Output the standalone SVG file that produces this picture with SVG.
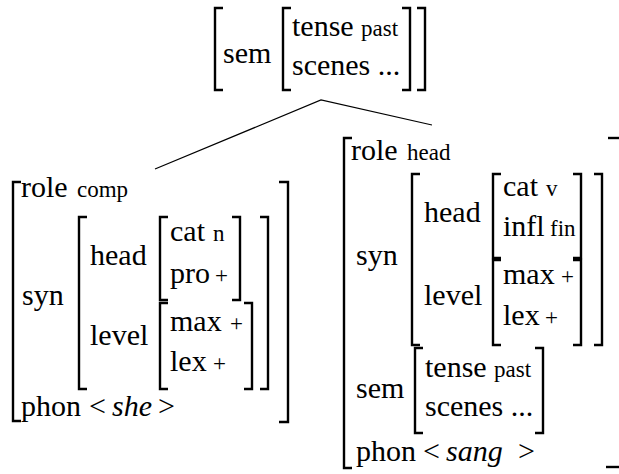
<svg xmlns="http://www.w3.org/2000/svg" width="619" height="474" viewBox="0 0 619 474" font-family="'Liberation Serif', 'DejaVu Serif', serif">
  <style>
    text, tspan { font-family: "Liberation Serif", "DejaVu Serif", serif; fill: #000; }
    .m { font-size: 30px; }
    .s { font-size: 23px; }
    .i { font-style: italic; }
    .br { fill: none; stroke: #000; stroke-width: 2.4; }
    .edge { fill: none; stroke: #000; stroke-width: 1.2; }
  </style>

  <g id="connectors">
    <polyline class="edge" points="155,169 321,100 432,125"/>
  </g>

  <!-- top: sem [tense past, scenes ...] -->
  <g id="node-top">
    <path class="br" d="M223,8 H215 V90 H223"/>
    <text class="m" x="223" y="63">sem</text>
    <path class="br" d="M291,8 H283 V90 H291"/>
    <text y="36"><tspan class="m" x="292">tense</tspan><tspan class="s" x="361">past</tspan></text>
    <text class="m" x="292" y="75">scenes ...</text>
    <path class="br" d="M402,8 H410 V90 H402"/>
    <path class="br" d="M417,8 H425 V90 H417"/>
  </g>

  <!-- left daughter: role comp -->
  <g id="node-left">
    <path class="br" d="M21,182 H13 V421 H21"/>
    <text y="197"><tspan class="m" x="21">role</tspan><tspan class="s" x="77">comp</tspan></text>
    <text class="m" x="22" y="305">syn</text>
    <path class="br" d="M87,217 H79 V389 H87"/>
    <text class="m" x="90" y="265">head</text>
    <path class="br" d="M168,217 H160 V300 H168"/>
    <text y="241"><tspan class="m" x="170">cat</tspan><tspan class="s" x="213">n</tspan></text>
    <text y="283"><tspan class="m" x="170">pro</tspan><tspan class="s" x="215">+</tspan></text>
    <path class="br" d="M232,217 H240 V300 H232"/>
    <text class="m" x="90" y="345">level</text>
    <path class="br" d="M168,303 H160 V389 H168"/>
    <text y="331"><tspan class="m" x="170">max</tspan><tspan class="s" x="230">+</tspan></text>
    <text y="371"><tspan class="m" x="170">lex</tspan><tspan class="s" x="213">+</tspan></text>
    <path class="br" d="M244,303 H252 V389 H244"/>
    <path class="br" d="M260,217 H268 V389 H260"/>
    <text class="m" y="416"><tspan x="21">phon</tspan><tspan x="89">&lt;</tspan><tspan class="i" x="112">she</tspan><tspan x="158">&gt;</tspan></text>
    <path class="br" d="M279,182 H288 V422 H279"/>
  </g>

  <!-- right daughter: role head -->
  <g id="node-right">
    <path class="br" d="M352,138 H344 V468 H352"/>
    <text y="160"><tspan class="m" x="351">role</tspan><tspan class="s" x="407">head</tspan></text>
    <text class="m" x="356" y="265">syn</text>
    <path class="br" d="M420,174 H412 V345 H420"/>
    <text class="m" x="424" y="222">head</text>
    <path class="br" d="M501,174 H493 V258 H501"/>
    <text y="196"><tspan class="m" x="503">cat</tspan><tspan class="s" x="546">v</tspan></text>
    <text y="236"><tspan class="m" x="503">infl</tspan><tspan class="s" x="550">fin</tspan></text>
    <path class="br" d="M573,174 H581 V258 H573"/>
    <text class="m" x="424" y="305">level</text>
    <path class="br" d="M501,260 H493 V345 H501"/>
    <text y="284"><tspan class="m" x="503">max</tspan><tspan class="s" x="561">+</tspan></text>
    <text y="325"><tspan class="m" x="503">lex</tspan><tspan class="s" x="545">+</tspan></text>
    <path class="br" d="M573,260 H581 V345 H573"/>
    <path class="br" d="M594,174 H602 V345 H594"/>
    <text class="m" x="356" y="398">sem</text>
    <path class="br" d="M423,348 H415 V433 H423"/>
    <text y="377"><tspan class="m" x="425">tense</tspan><tspan class="s" x="494">past</tspan></text>
    <text class="m" x="425" y="416">scenes ...</text>
    <path class="br" d="M535,348 H543 V433 H535"/>
    <text class="m" y="461"><tspan x="356">phon</tspan><tspan x="423">&lt;</tspan><tspan class="i" x="446">sang</tspan><tspan x="518">&gt;</tspan></text>
    <path class="br" d="M608,138 H619"/>
    <path class="br" d="M606,467 H619"/>
  </g>
</svg>
